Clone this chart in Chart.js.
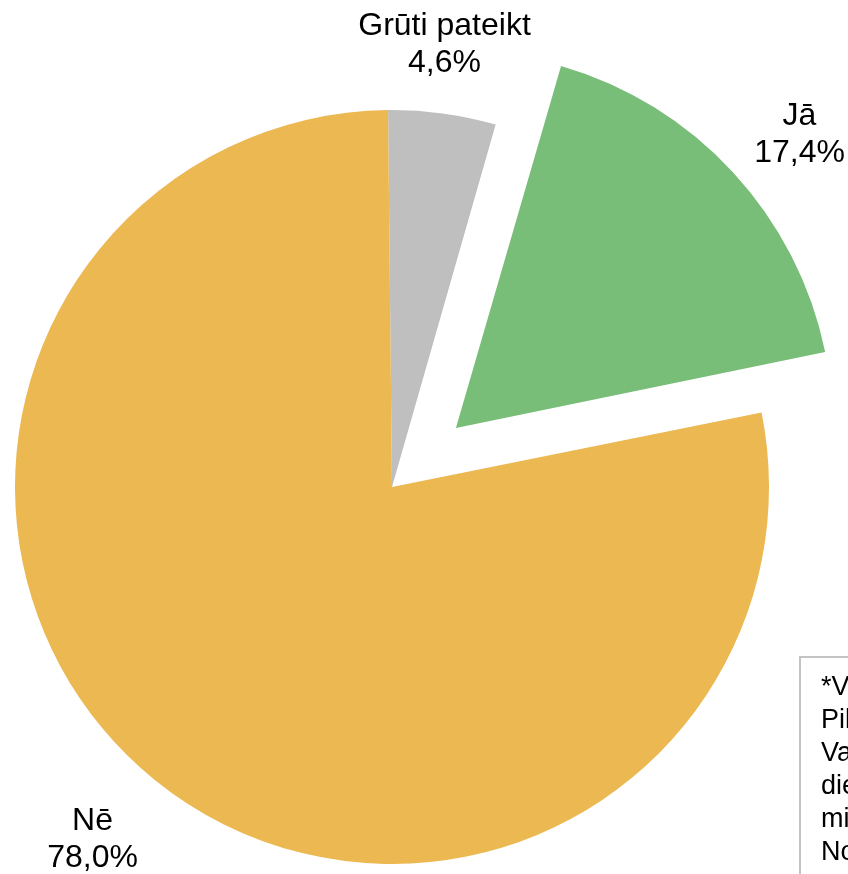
<!DOCTYPE html>
<html>
<head>
<meta charset="utf-8">
<script src="https://cdn.jsdelivr.net/npm/chart.js@4.4.0/dist/chart.umd.min.js"></script>
<style>
  html, body { margin: 0; padding: 0; background: #fff; overflow: hidden; }
  #wrap { position: relative; width: 848px; height: 874px; }
  #note {
    position: absolute; left: 799px; top: 656px; width: 200px; height: 240px;
    border: 2px solid #c3c3c3; box-sizing: border-box;
    font: 27px "Liberation Sans", Arial, sans-serif; line-height: 33px; color: #000;
    padding: 12px 0 0 20px; white-space: nowrap;
  }
</style>
</head>
<body>
<div id="wrap">
  <canvas id="pie" width="848" height="874"></canvas>
  <div id="note">*V<br>Pil<br>Va<br>die<br>mi<br>No</div>
</div>
<script>
// chart data
var categories = ['Grūti pateikt', 'Jā', 'Nē'];
var values = [4.6, 17.4, 78.0];
var valueLabels = ['4,6%', '17,4%', '78,0%'];
var colors = ['#bfbfbf', '#78bd78', '#ebb852'];
var explode = [0, 1, 0];

// label placement: angle nudge (deg) and distance from slice centre
var labelNudge = [-0.9, 2.2, 1.3];
var labelDist = [445, 452, 463];
var PULL = 87;

// chart.js grows an exploded slice's radius a bit, undo that
var keepRadius = {
  id: 'keepRadius',
  beforeDatasetsDraw: function (chart) {
    var meta = chart.getDatasetMeta(0);
    meta.data.forEach(function (arc) {
      var off = (arc.options.offset || 0) / 4;
      var fix = 1 - Math.sin(Math.min(Math.PI, arc.circumference));
      arc.outerRadius = chart.options.radiusBase - off * fix;
    });
  }
};

var pieLabels = {
  id: 'pieLabels',
  afterDatasetsDraw: function (chart) {
    var ctx = chart.ctx;
    var meta = chart.getDatasetMeta(0);
    ctx.save();
    ctx.font = '32px "Liberation Sans", Arial, sans-serif';
    ctx.fillStyle = '#000';
    ctx.textAlign = 'center';
    ctx.textBaseline = 'middle';
    meta.data.forEach(function (arc, i) {
      var mid = (arc.startAngle + arc.endAngle) / 2;
      var off = (arc.options.offset || 0) / 4;
      var cx = arc.x + Math.cos(mid) * off;
      var cy = arc.y + Math.sin(mid) * off;
      var a = mid + labelNudge[i] * Math.PI / 180;
      var x = cx + Math.cos(a) * labelDist[i];
      var y = cy + Math.sin(a) * labelDist[i];
      ctx.fillText(categories[i], x, y - 18.5);
      ctx.fillText(valueLabels[i], x, y + 18.5);
    });
    ctx.restore();
  }
};

new Chart(document.getElementById('pie').getContext('2d'), {
  type: 'pie',
  data: {
    labels: categories,
    datasets: [{
      data: values,
      backgroundColor: colors,
      borderWidth: 0,
      offset: explode.map(function (e) { return e * PULL * 4; })
    }]
  },
  options: {
    responsive: false,
    animation: false,
    radius: 377,
    radiusBase: 377,
    rotation: -0.6,
    layout: { padding: { left: 0, right: 64, top: 100, bottom: 0 } },
    plugins: {
      legend: { display: false },
      tooltip: { enabled: false }
    }
  },
  plugins: [keepRadius, pieLabels]
});
</script>
</body>
</html>
